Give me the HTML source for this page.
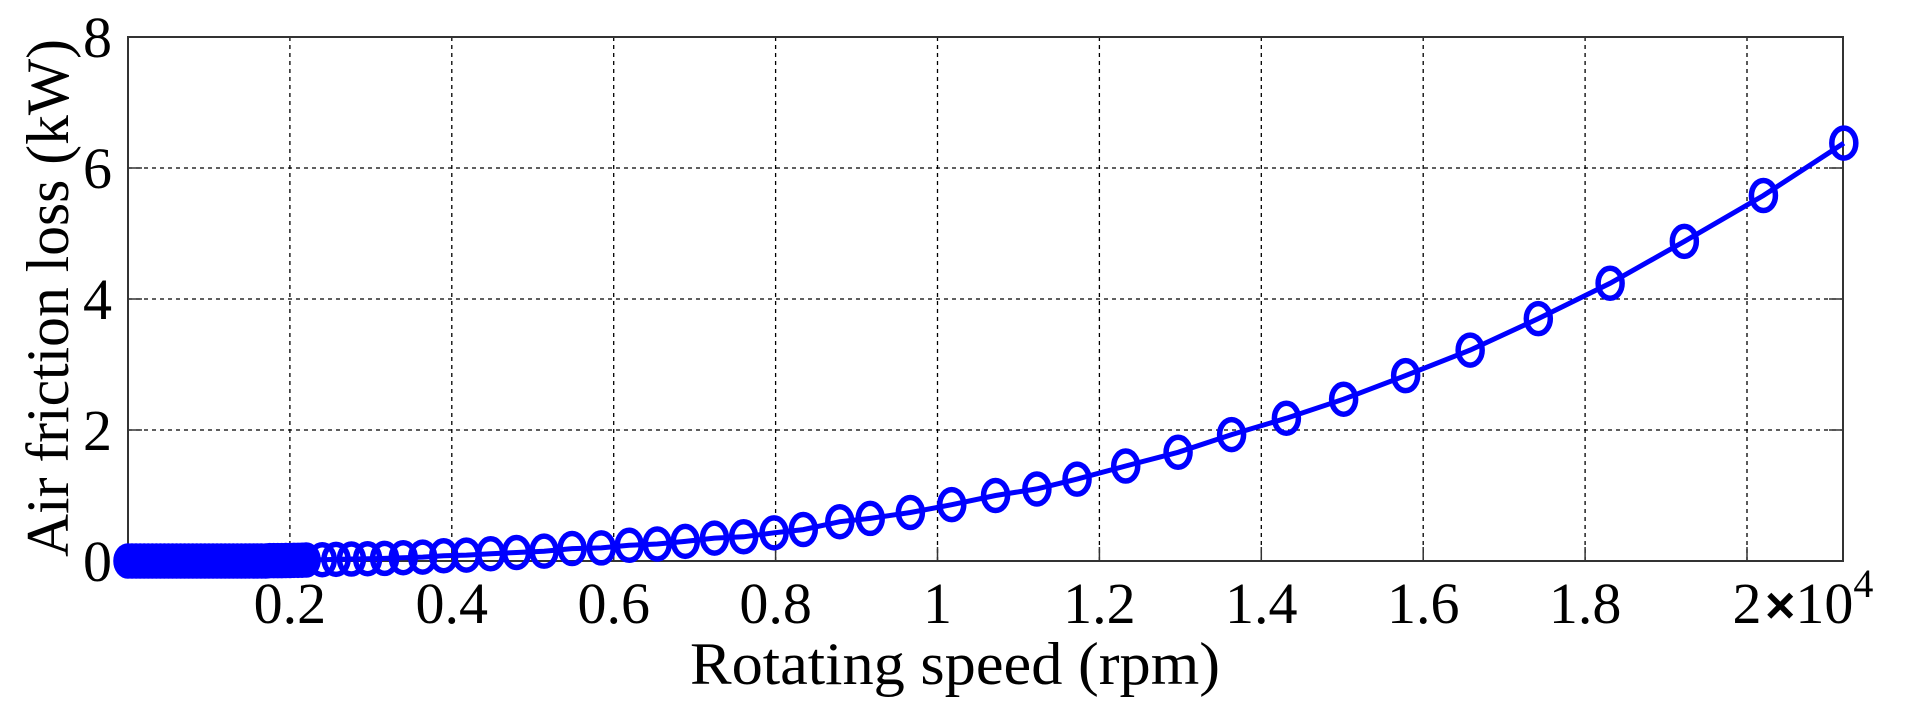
<!DOCTYPE html>
<html><head><meta charset="utf-8"><style>
html,body{margin:0;padding:0;background:#fff;}
svg{display:block;}
text{font-family:"Liberation Serif",serif;fill:#000;}
</style></head><body>
<svg id="chart" width="1908" height="719" viewBox="0 0 1908 719" xmlns="http://www.w3.org/2000/svg">
<g id="grid"></g>
<g id="axes"></g>
<g id="series"></g>
<text x="955" y="684" font-size="60" text-anchor="middle" textLength="530" lengthAdjust="spacingAndGlyphs">Rotating speed (rpm)</text>
<text transform="translate(68,298) rotate(-90)" font-size="60" text-anchor="middle" textLength="518" lengthAdjust="spacingAndGlyphs">Air friction loss (kW)</text>
</svg>
<script>
const xTicks=[2000,4000,6000,8000,10000,12000,14000,16000,18000,20000];
const xTickLabels=["0.2","0.4","0.6","0.8","1","1.2","1.4","1.6","1.8","2"];
const yTicks=[0,2,4,6,8];
const yTickLabels=["0","2","4","6","8"];
const speedRpm=[0,50,100,150,200,250,300,350,400,450,500,550,600,650,700,750,800,850,900,950,1000,1050,1100,1150,1200,1250,1300,1350,1400,1450,1500,1550,1600,1650,1700,1750,1800,1850,1900,1950,2000,2050,2100,2150,2200,2400,2570,2760,2960,3170,3400,3640,3900,4180,4480,4800,5140,5486,5847,6192,6538,6884,7245,7605,7981,8342,8793,9169,9665,10176,10717,11228,11724,12325,12972,13633,14310,15017,15783,16580,17422,18309,19226,20203,21196];
const lossKw=[0,0,0,0,0,0,0,0,0,0,0,0,0,0,0,0,0,0,0,0,0,0,0,0,0,0,0,0,0,0,0,0,0,0,0,0.005,0.005,0.005,0.005,0.008,0.008,0.01,0.01,0.012,0.015,0.02,0.025,0.03,0.035,0.04,0.05,0.06,0.08,0.09,0.11,0.13,0.15,0.19,0.2,0.24,0.26,0.3,0.35,0.37,0.43,0.48,0.6,0.65,0.74,0.86,1.0,1.1,1.25,1.45,1.66,1.93,2.18,2.47,2.83,3.22,3.7,4.24,4.88,5.58,6.38];
const L=128,R=1843,T=37,B=561,YMAX=8;
const X=v=>L+(v/10000)*809.5;
const Y=v=>B-v/YMAX*(B-T);
const NS="http://www.w3.org/2000/svg";
function mk(tag,attrs,parent){const e=document.createElementNS(NS,tag);for(const k in attrs)e.setAttribute(k,attrs[k]);parent.appendChild(e);return e;}
const grid=document.getElementById('grid'),axes=document.getElementById('axes'),series=document.getElementById('series');
xTicks.forEach((t,i)=>{
  const gl=mk('line',{x1:X(t),x2:X(t),y1:T,y2:B,stroke:'#000','stroke-width':1.3,'stroke-dasharray':'4,4'},grid);
  
  
  const tk=mk('line',{x1:X(t),x2:X(t),y1:B,y2:B-14,stroke:'#333','stroke-width':1.5},axes);
  
  
  const lb=mk('text',{x:X(t),y:B+62,'font-size':58,'text-anchor':'middle'},axes);
  lb.textContent=xTickLabels[i];
  
  
});
yTicks.forEach((t,i)=>{
  if(t>0&&t<YMAX){
    const gl=mk('line',{x1:L,x2:R,y1:Y(t),y2:Y(t),stroke:'#000','stroke-width':1.3,'stroke-dasharray':'4,4'},grid);
    
    
  }
  const tk=mk('line',{x1:L,x2:L+14,y1:Y(t),y2:Y(t),stroke:'#333','stroke-width':1.5},axes);
  
  
  const tk2=mk('line',{x1:R,x2:R-14,y1:Y(t),y2:Y(t),stroke:'#333','stroke-width':1.5},axes);
  
  
  const lb=mk('text',{x:L-16,y:Y(t)+20,'font-size':58,'text-anchor':'end'},axes);
  lb.textContent=yTickLabels[i];
  
  
});
const frame=mk('rect',{x:L,y:T,width:R-L,height:B-T,fill:'none',stroke:'#333','stroke-width':2},axes);


const ex=mk('text',{x:X(20000)+18,y:B+62,'font-size':58},axes);
ex.innerHTML='<tspan font-family="Liberation Sans" font-weight="bold" font-size="52">×</tspan>10<tspan font-size="40" dy="-26">4</tspan>';


const pts=speedRpm.map((v,i)=>X(v).toFixed(1)+','+Y(lossKw[i]).toFixed(1)).join(' ');
const pl=mk('polyline',{points:pts,fill:'none',stroke:'#0000ff','stroke-width':5},series);


speedRpm.forEach((v,i)=>{
  const c=mk('ellipse',{cx:X(v),cy:Y(lossKw[i]),rx:12,ry:15,fill:'none',stroke:'#0000ff','stroke-width':5.5},series);
  
  
});
</script>
</body></html>
